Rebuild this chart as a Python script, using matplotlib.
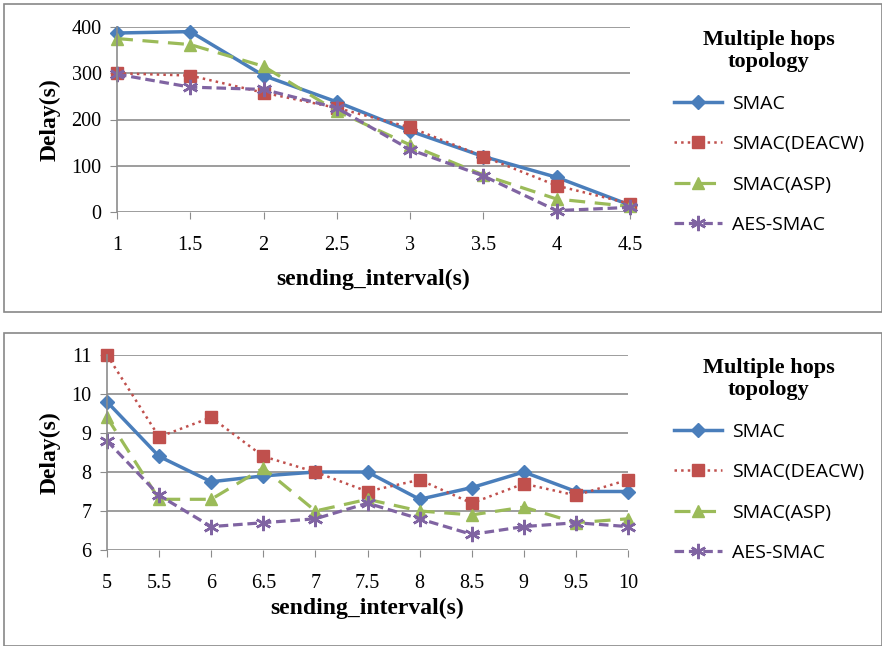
import matplotlib.pyplot as plt
from matplotlib.patches import Rectangle

# top panel: sending interval 1..4.5 s
x_top = [1, 1.5, 2, 2.5, 3, 3.5, 4, 4.5]
smac_top = [387, 390, 295, 238, 175, 120, 75, 15]
deacw_top = [300, 295, 258, 225, 183, 120, 57, 18]
asp_top = [375, 362, 315, 218, 145, 80, 28, 12]
aes_top = [298, 270, 265, 225, 135, 78, 3, 10]

# bottom panel: sending interval 5..10 s
x_bot = [5, 5.5, 6, 6.5, 7, 7.5, 8, 8.5, 9, 9.5, 10]
smac_bot = [9.8, 8.4, 7.75, 7.9, 8.0, 8.0, 7.3, 7.6, 8.0, 7.5, 7.5]
deacw_bot = [11.0, 8.9, 9.4, 8.4, 8.0, 7.5, 7.8, 7.2, 7.7, 7.4, 7.8]
asp_bot = [9.4, 7.3, 7.3, 8.1, 7.0, 7.3, 7.0, 6.9, 7.1, 6.7, 6.8]
aes_bot = [8.8, 7.4, 6.6, 6.7, 6.8, 7.2, 6.8, 6.4, 6.6, 6.7, 6.6]

labels = ['SMAC', 'SMAC(DEACW)', 'SMAC(ASP)', 'AES-SMAC']
styles = [
    dict(color='#4A7EBB', ls='-', lw=2.5, marker='D', ms=7),
    dict(color='#C0504D', ls=':', lw=1.8, marker='s', ms=9),
    dict(color='#9BBB59', ls=(0, (5, 3)), lw=2.3, marker='^', ms=9),
    dict(color='#8064A2', ls=(0, (3, 1.5)), lw=2.3, marker=(6, 2, 0), ms=11, mew=1.8),
]

serif = ['Liberation Serif', 'DejaVu Serif']
sans = ['Open Sans', 'DejaVu Sans']

fig = plt.figure(figsize=(8.82, 6.46), dpi=100)

# panel frames
for y0, h in [(1 - 312 / 646, 308 / 646), (0.0, 313 / 646)]:
    fig.patches.append(Rectangle((4 / 882, y0), 878 / 882, h, transform=fig.transFigure,
                                 fill=False, edgecolor='#888888', lw=1.2))


def panel(rect, x, series, ylim, yticks, xlabels, leg_y, xpad, xlabpad):
    ax = fig.add_axes(rect)
    for ys, lab, st in zip(series, labels, styles):
        ax.plot(x, ys, label=lab, **st)
    ax.set_xlim(x[0], x[-1])
    ax.set_ylim(*ylim)
    ax.set_xticks(x)
    ax.set_xticklabels(xlabels, family=serif, fontsize=14.5)
    ax.set_yticks(yticks)
    ax.set_yticklabels([str(v) for v in yticks], family=serif, fontsize=14.5)
    ax.grid(axis='y', color='#8C8C8C', lw=1.2)
    ax.set_axisbelow(True)
    for s in ['top', 'right', 'bottom']:
        ax.spines[s].set_visible(False)
    ax.spines['left'].set_color('#8C8C8C')
    ax.spines['left'].set_linewidth(1.2)
    ax.tick_params(axis='both', color='#8C8C8C', length=5)
    ax.tick_params(axis='x', pad=xpad)
    ax.tick_params(axis='y', pad=6)
    ax.set_ylabel('Delay(s)', family=serif, fontsize=17, fontweight='bold', labelpad=8)
    ax.set_xlabel('sending_interval(s)', family=serif, fontsize=17, fontweight='bold', labelpad=xlabpad)
    for line in ax.get_lines():
        line.set_clip_on(False)
    leg = ax.legend(loc='upper left', bbox_to_anchor=(656 / 882, leg_y), bbox_transform=fig.transFigure,
                    frameon=False, title='Multiple hops\ntopology', handlelength=2.5,
                    handletextpad=0.5, labelspacing=1.15, prop=dict(family=sans, size=14))
    leg.get_title().set_fontproperties(dict(family=serif, size=16, weight='bold'))
    leg.get_title().set_multialignment('center')
    return ax


panel([117 / 882, 1 - 212 / 646, 513 / 882, 185 / 646], x_top,
      [smac_top, deacw_top, asp_top, aes_top], (0, 400), [0, 100, 200, 300, 400],
      ['1', '1.5', '2', '2.5', '3', '3.5', '4', '4.5'], 1 - 12 / 646, 12, 10)
panel([107 / 882, 1 - 550 / 646, 521 / 882, 195 / 646], x_bot,
      [smac_bot, deacw_bot, asp_bot, aes_bot], (6, 11), [6, 7, 8, 9, 10, 11],
      ['5', '5.5', '6', '6.5', '7', '7.5', '8', '8.5', '9', '9.5', '10'], 1 - 340 / 646, 12, 4)

fig.savefig('out.png', dpi=100)
